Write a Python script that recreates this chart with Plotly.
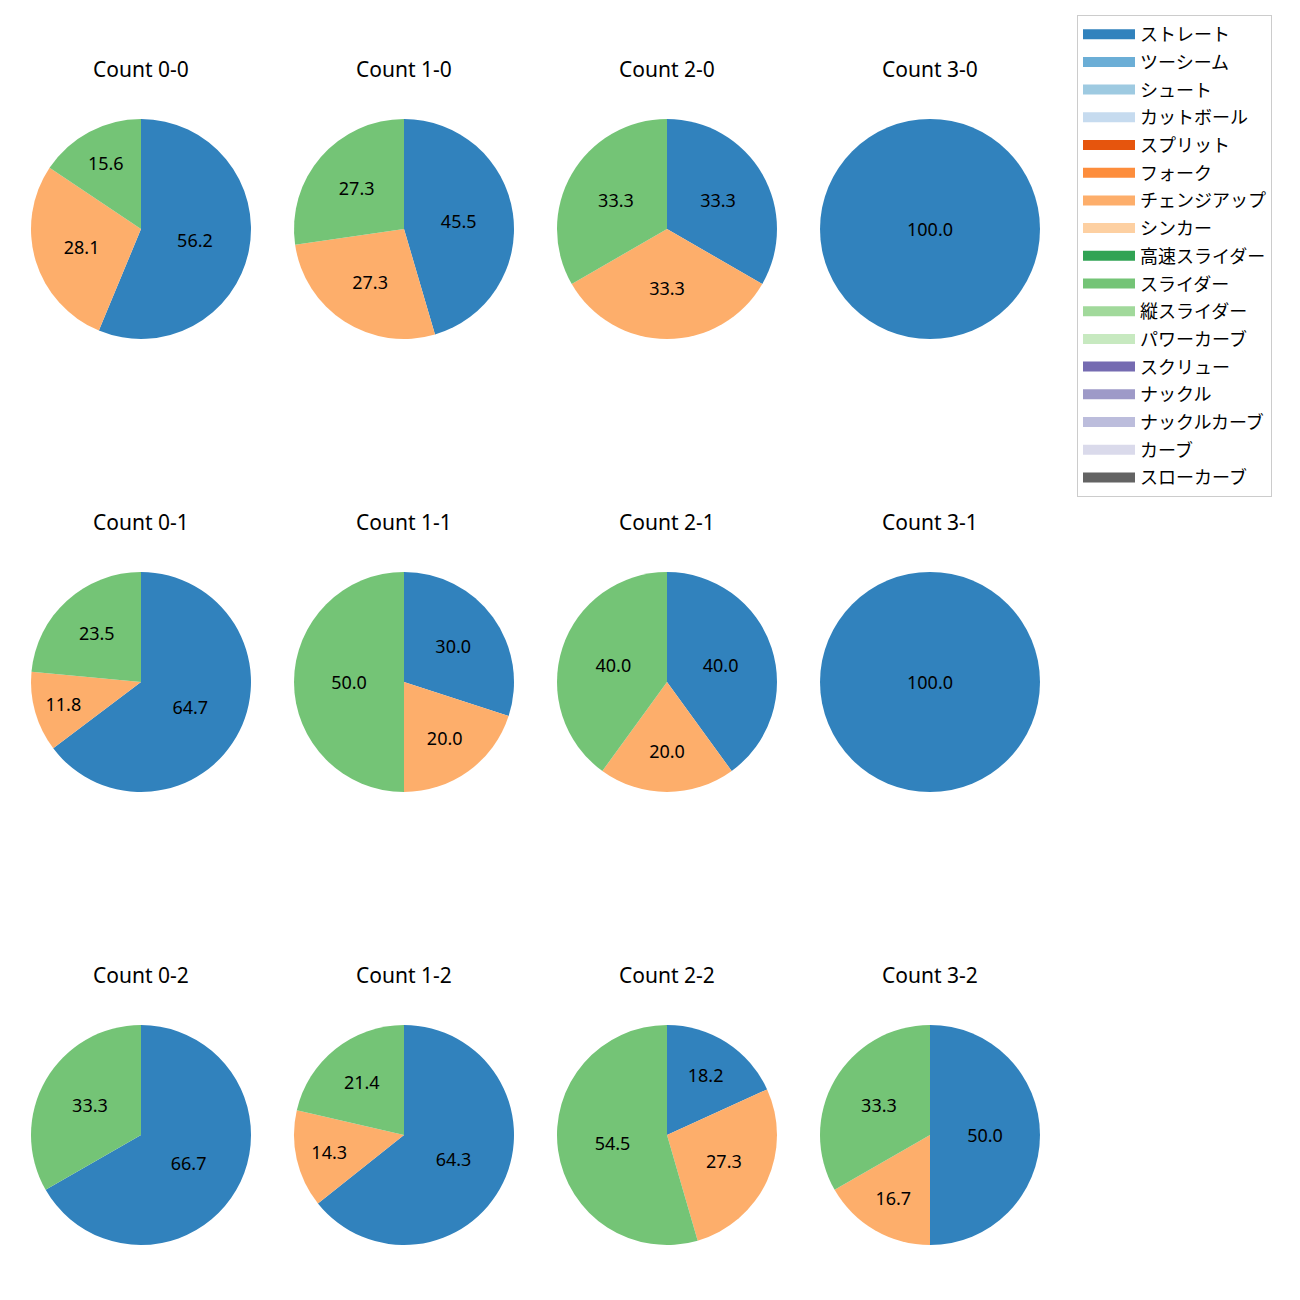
import plotly.graph_objects as go

# ---- data ----
pitch_types = ["ストレート", "ツーシーム", "シュート", "カットボール", "スプリット", "フォーク",
               "チェンジアップ", "シンカー", "高速スライダー", "スライダー", "縦スライダー",
               "パワーカーブ", "スクリュー", "ナックル", "ナックルカーブ", "カーブ", "スローカーブ"]
pitch_colors = ["#3182bd", "#6baed6", "#9ecae1", "#c6dbef", "#e6550d", "#fd8d3c",
                "#fdae6b", "#fdd0a2", "#31a354", "#74c476", "#a1d99b", "#c7e9c0",
                "#756bb1", "#9e9ac8", "#bcbddc", "#dadaeb", "#636363"]

counts = ["0-0", "1-0", "2-0", "3-0",
          "0-1", "1-1", "2-1", "3-1",
          "0-2", "1-2", "2-2", "3-2"]
# percentages of ストレート, チェンジアップ, スライダー per count
straight = [56.2, 45.5, 33.3, 100.0, 64.7, 30.0, 40.0, 100.0, 66.7, 64.3, 18.2, 50.0]
changeup = [28.1, 27.3, 33.3, 0.0, 11.8, 20.0, 20.0, 0.0, 0.0, 14.3, 27.3, 16.7]
slider = [15.6, 27.3, 33.3, 0.0, 23.5, 50.0, 40.0, 0.0, 33.3, 21.4, 54.5, 33.3]

W = H = 1300
OFF = 8  # browser default body margin
col_cx = [141, 404, 667, 930]
row_cy = [229, 682, 1135]
R = 110

fig = go.Figure()
annotations = []
for i, cnt in enumerate(counts):
    r, c = divmod(i, 4)
    cx, cy = col_cx[c] - OFF, row_cy[r] - OFF
    vals = [0.0] * len(pitch_types)
    vals[pitch_types.index("ストレート")] = straight[i]
    vals[pitch_types.index("チェンジアップ")] = changeup[i]
    vals[pitch_types.index("スライダー")] = slider[i]
    texts = [f"{v:.1f}" if v > 0 else "" for v in vals]
    fig.add_trace(go.Pie(
        labels=pitch_types, values=vals, text=texts,
        textinfo="text", textposition="inside", insidetextorientation="horizontal",
        textfont=dict(size=18, color="black", family="Noto Sans"),
        marker=dict(colors=pitch_colors, line=dict(width=0)),
        sort=False, direction="clockwise", rotation=0,
        showlegend=False, hoverinfo="label+percent",
        domain=dict(x=[(cx - R) / W, (cx + R) / W], y=[1 - (cy + R) / H, 1 - (cy - R) / H]),
    ))
    annotations.append(dict(
        text=f"Count {cnt}", x=cx / W, y=1 - (cy - 160) / H, xref="paper", yref="paper",
        showarrow=False, xanchor="center", yanchor="middle",
        font=dict(size=21, color="black", family="Noto Sans")))

# legend entries
for name, col in zip(pitch_types, pitch_colors):
    fig.add_trace(go.Scatter(
        x=[None], y=[None], mode="lines", name=name, legendgroup=name,
        line=dict(color=col, width=13), showlegend=True, hoverinfo="skip"))

fig.update_layout(
    width=W, height=H,
    margin=dict(l=0, r=0, t=0, b=0),
    paper_bgcolor="white", plot_bgcolor="white",
    font=dict(family="Noto Sans CJK JP", size=18, color="black"),
    xaxis=dict(visible=False), yaxis=dict(visible=False),
    annotations=annotations,
    uniformtext=dict(minsize=18, mode="show"),
    legend=dict(x=(1077 - OFF) / W, y=1 - (15 - OFF) / H, xanchor="left", yanchor="top",
                bordercolor="#cccccc", borderwidth=1, bgcolor="white",
                traceorder="grouped", tracegroupgap=1.3, itemwidth=52,
                font=dict(size=18, family="Noto Sans CJK JP", color="black")),
)

fig.write_html("out.html")
